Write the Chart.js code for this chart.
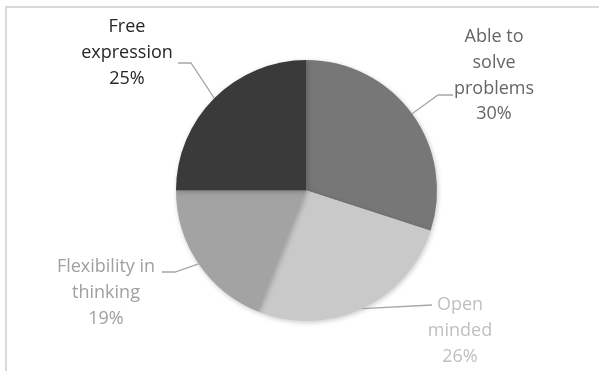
<!DOCTYPE html>
<html>
<head>
<meta charset="utf-8">
<script src="https://cdn.jsdelivr.net/npm/chart.js@4"></script>
<style>
  html, body { margin: 0; padding: 0; background: #ffffff; }
  #wrap { width: 599px; height: 371px; position: relative; overflow: hidden; }
</style>
</head>
<body>
<div id="wrap"><canvas id="c" width="599" height="371"></canvas></div>
<script>
// ---- data ----
const categories = ["Able to solve problems", "Open minded", "Flexibility in thinking", "Free expression"];
const values = [30, 26, 19, 25];
const labelLines = [
  ["Able to", "solve", "problems"],
  ["Open", "minded"],
  ["Flexibility in", "thinking"],
  ["Free", "expression"]
];

// ---- styles ----
const sliceColors = ["#777777", "#c9c9c9", "#a3a3a3", "#3a3a3a"];
const textColors = ["#666666", "#bfbfbf", "#a0a0a0", "#262626"];
// label placement relative to pie centre (text block centre x, first line y) and leader elbow
const labelPlacement = [
  { dx: 187.5, dy: -153.5, elbow: [[146.5, -95.5], [131.5, -95.5]] },
  { dx: 153.5, dy: 114.5, elbow: [[125.5, 114.5]] },
  { dx: -200.5, dy: 76.5, elbow: [[-144.5, 81.5], [-131.5, 81.5]] },
  { dx: -179.5, dy: -163.5, elbow: [[-128.5, -127.5], [-115.5, -127.5]] }
];
const lineHeight = 25.7;
const fontSpec = "18px 'Open Sans', sans-serif";

const framePlugin = {
  id: 'frame',
  beforeDraw(chart) {
    const ctx = chart.ctx;
    ctx.save();
    ctx.strokeStyle = '#d9d9d9';
    ctx.lineWidth = 2;
    ctx.beginPath();
    ctx.moveTo(6, 400);
    ctx.lineTo(6, 7);
    ctx.lineTo(700, 7);
    ctx.stroke();
    ctx.restore();
  }
};

const shadowPlugin = {
  id: 'pieShadow',
  beforeDatasetsDraw(chart) {
    const ctx = chart.ctx;
    ctx.save();
    ctx.shadowColor = 'rgba(0,0,0,0.22)';
    ctx.shadowBlur = 5;
    ctx.shadowOffsetX = 1;
    ctx.shadowOffsetY = 1.5;
  },
  afterDatasetsDraw(chart) {
    chart.ctx.restore();
  }
};

const labelPlugin = {
  id: 'pieLabels',
  afterDatasetsDraw(chart) {
    const ctx = chart.ctx;
    const meta = chart.getDatasetMeta(0);
    const total = values.reduce((a, b) => a + b, 0);
    meta.data.forEach((arc, i) => {
      const p = arc.getProps(['x', 'y', 'startAngle', 'endAngle', 'outerRadius'], true);
      const mid = (p.startAngle + p.endAngle) / 2;
      const ex = p.x + Math.cos(mid) * p.outerRadius;
      const ey = p.y + Math.sin(mid) * p.outerRadius;
      const pl = labelPlacement[i];
      // leader line
      ctx.save();
      ctx.strokeStyle = '#a6a6a6';
      ctx.lineWidth = 1.3;
      ctx.beginPath();
      ctx.moveTo(ex, ey);
      for (let k = pl.elbow.length - 1; k >= 0; k--) {
        ctx.lineTo(p.x + pl.elbow[k][0], p.y + pl.elbow[k][1]);
      }
      ctx.stroke();
      // text
      ctx.fillStyle = textColors[i];
      ctx.font = fontSpec;
      ctx.textAlign = 'center';
      ctx.textBaseline = 'middle';
      const lines = labelLines[i].concat([Math.round(values[i] / total * 100) + '%']);
      lines.forEach((t, j) => {
        ctx.fillText(t, p.x + pl.dx, p.y + pl.dy + j * lineHeight);
      });
      ctx.restore();
    });
  }
};

new Chart(document.getElementById('c'), {
  type: 'pie',
  data: {
    labels: categories,
    datasets: [{
      data: values,
      backgroundColor: sliceColors,
      borderWidth: 0
    }]
  },
  options: {
    responsive: false,
    animation: false,
    layout: { padding: { left: 14, right: 0, top: 60, bottom: 50 } },
    plugins: {
      legend: { display: false },
      tooltip: { enabled: false }
    }
  },
  plugins: [framePlugin, shadowPlugin, labelPlugin]
});
</script>
</body>
</html>
